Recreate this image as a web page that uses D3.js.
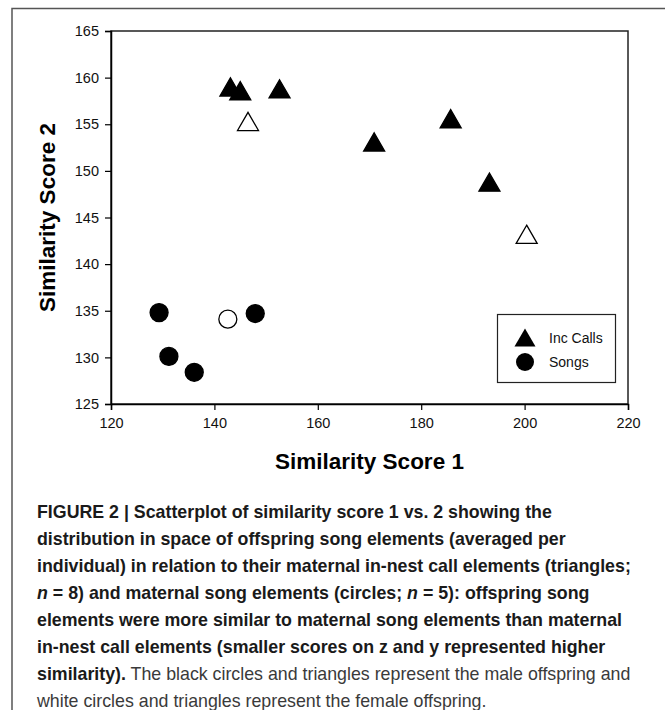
<!DOCTYPE html>
<html>
<head>
<meta charset="utf-8">
<script src="https://cdn.jsdelivr.net/npm/d3@7"></script>
<style>
  body { margin: 0; background: #fff; }
  svg { display: block; }
</style>
</head>
<body>
<svg width="665" height="710"></svg>
<script>
// Inc Calls (triangles): male offspring filled, female offspring open
const callMaleX = [143.1, 145.0, 152.6, 170.9, 185.7, 193.2];
const callMaleY = [159.0, 158.6, 158.8, 153.1, 155.6, 148.8];
const callFemaleX = [146.5, 200.4];
const callFemaleY = [155.3, 143.2];

// Songs (circles)
const songMaleX = [129.3, 131.2, 136.1, 147.9];
const songMaleY = [134.8, 130.1, 128.4, 134.7];
const songFemaleX = [142.6];
const songFemaleY = [134.1];

const xTicks = [120, 140, 160, 180, 200, 220];
const yTicks = [125, 130, 135, 140, 145, 150, 155, 160, 165];
const legendLabels = ['Inc Calls', 'Songs'];

const svg = d3.select('svg');
const font = 'Liberation Sans, Arial, sans-serif';

// outer figure frame (left + top only)
svg.append('path')
  .attr('d', 'M12,710 L12,8.5 L665,8.5')
  .attr('fill', 'none')
  .attr('stroke', '#555')
  .attr('stroke-width', 1.5);

const x = d3.scaleLinear().domain([120, 220]).range([111, 628]);
const y = d3.scaleLinear().domain([125, 165]).range([404, 31]);

// plot frame
svg.append('rect')
  .attr('x', x(120)).attr('y', y(165))
  .attr('width', x(220) - x(120)).attr('height', y(125) - y(165))
  .attr('fill', 'none')
  .attr('stroke', '#222')
  .attr('stroke-width', 1.5);

const xAxis = svg.append('g')
  .attr('transform', `translate(0,${y(125)})`)
  .call(d3.axisBottom(x).tickValues(xTicks).tickSize(6).tickPadding(8));
const yAxis = svg.append('g')
  .attr('transform', `translate(${x(120)},0)`)
  .call(d3.axisLeft(y).tickValues(yTicks).tickSize(6).tickPadding(6));

[xAxis, yAxis].forEach(g => {
  g.select('.domain').attr('stroke', '#000').attr('stroke-width', 1.5);
  g.selectAll('.tick line').attr('stroke', '#000').attr('stroke-width', 1.2);
  g.selectAll('.tick text')
    .attr('fill', '#111')
    .style('font-family', font)
    .style('font-size', '14.5px');
});

// axis titles
svg.append('text')
  .attr('x', (x(120) + x(220)) / 2)
  .attr('y', 469)
  .attr('text-anchor', 'middle')
  .style('font-family', font)
  .style('font-size', '22.5px')
  .style('font-weight', 'bold')
  .text('Similarity Score 1');

svg.append('text')
  .attr('transform', `translate(55,${(y(125) + y(165)) / 2}) rotate(-90)`)
  .attr('text-anchor', 'middle')
  .style('font-family', font)
  .style('font-size', '22.5px')
  .style('font-weight', 'bold')
  .text('Similarity Score 2');

// symbols
const triSize = 191;
const triOff = Math.sqrt(triSize / (Math.sqrt(3) * 3)) / 2;  // centre the bbox on the point
const tri = d3.symbol(d3.symbolTriangle, triSize);
const circleR = 9;

const toPts = (xs, ys) => xs.map((v, i) => ({x: v, y: ys[i]}));

const marks = svg.append('g');

const drawTri = (pts, fill) => {
  marks.selectAll(null)
    .data(pts)
    .enter().append('path')
      .attr('d', tri)
      .attr('transform', d => `translate(${x(d.x)},${y(d.y) + triOff})`)
      .attr('fill', fill)
      .attr('stroke', '#000')
      .attr('stroke-width', 1.3);
};

const drawCircle = (pts, fill) => {
  marks.selectAll(null)
    .data(pts)
    .enter().append('circle')
      .attr('cx', d => x(d.x))
      .attr('cy', d => y(d.y))
      .attr('r', circleR)
      .attr('fill', fill)
      .attr('stroke', '#000')
      .attr('stroke-width', 1.3);
};

drawTri(toPts(callMaleX, callMaleY), '#000');
drawTri(toPts(callFemaleX, callFemaleY), '#fff');
drawCircle(toPts(songMaleX, songMaleY), '#000');
drawCircle(toPts(songFemaleX, songFemaleY), '#fff');

// legend
const legend = svg.append('g');
legend.append('rect')
  .attr('x', 497.5).attr('y', 314.5)
  .attr('width', 118).attr('height', 68)
  .attr('fill', '#fff')
  .attr('stroke', '#222')
  .attr('stroke-width', 1.2);

legend.append('path')
  .attr('d', tri)
  .attr('transform', `translate(525,${337.5 + triOff})`)
  .attr('fill', '#000');
legend.append('circle')
  .attr('cx', 525).attr('cy', 362)
  .attr('r', circleR)
  .attr('fill', '#000');

legend.selectAll('text.lab')
  .data(legendLabels)
  .enter().append('text')
    .attr('class', 'lab')
    .attr('x', 549)
    .attr('y', (d, i) => 343 + i * 24)
    .style('font-family', font)
    .style('font-size', '14px')
    .attr('fill', '#111')
    .text(d => d);

// caption
const capLines = [
  [['b', 'FIGURE 2 | Scatterplot of similarity score 1 vs. 2 showing the']],
  [['b', 'distribution in space of offspring song elements (averaged per']],
  [['b', 'individual) in relation to their maternal in-nest call elements (triangles;']],
  [['bi', 'n'], ['b', ' = 8) and maternal song elements (circles; '], ['bi', 'n'], ['b', ' = 5): offspring song']],
  [['b', 'elements were more similar to maternal song elements than maternal']],
  [['b', 'in-nest call elements (smaller scores on z and y represented higher']],
  [['b', 'similarity).'], ['n', ' The black circles and triangles represent the male offspring and']],
  [['n', 'white circles and triangles represent the female offspring.']],
];

const caption = svg.append('g')
  .style('font-family', font)
  .style('font-size', '17.8px');

capLines.forEach((line, i) => {
  const t = caption.append('text')
    .attr('x', 37)
    .attr('y', 518 + i * 27);
  line.forEach(([kind, str]) => {
    t.append('tspan')
      .attr('font-weight', kind === 'n' ? 'normal' : 'bold')
      .attr('font-style', kind === 'bi' ? 'italic' : 'normal')
      .attr('fill', kind === 'n' ? '#3a3a3a' : '#1a1a1a')
      .text(str);
  });
});
</script>
</body>
</html>
